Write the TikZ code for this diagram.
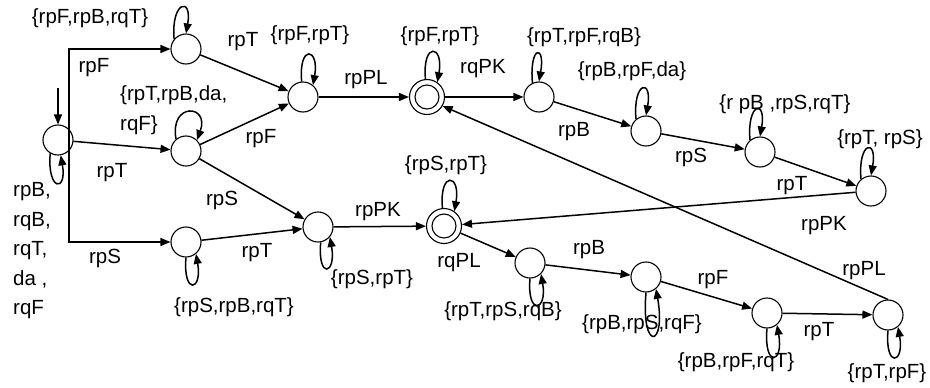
\documentclass[tikz,border=0pt]{standalone}
\usepackage{fontspec}
\setmainfont{Liberation Sans}
\usetikzlibrary{arrows.meta}
\begin{document}
\begin{tikzpicture}[x=1pt,y=-1pt,
  st/.style={circle,draw,line width=1.1pt,minimum size=30pt,inner sep=0pt},
  fin/.style={circle,draw,line width=1.1pt,minimum size=35pt,inner sep=0pt},
  edge/.style={line width=1.5pt,-{Triangle[length=10pt,width=8pt]}},
  lbl/.style={font=\fontsize{20.5}{29.5}\selectfont,inner sep=0pt}]
\useasboundingbox (0,0) rectangle (930,388);
% states
\node[st]  (s0) at (58,140) {};
\node[st]  (a) at (186,49) {};
\node[st]  (b) at (186,151) {};
\node[st]  (c) at (186,242) {};
\node[st]  (d) at (303,97) {};
\node[fin] (e) at (427,97) {};
\draw[line width=1.1pt] (e) circle[radius=12pt];
\node[st]  (f) at (539,97) {};
\node[st]  (g) at (646,131) {};
\node[st]  (h) at (760,152) {};
\node[st]  (i) at (871,191) {};
\node[st]  (j) at (318,227) {};
\node[fin] (k) at (444,226) {};
\draw[line width=1.1pt] (k) circle[radius=12pt];
\node[st]  (l) at (530,263) {};
\node[st]  (m) at (646,277) {};
\node[st]  (n) at (767,313) {};
\node[st]  (o) at (888,315) {};
\coordinate (start) at (58,88);
\coordinate (v) at (69,140);
% edges
\draw[edge] (start) -- (s0);
\draw[edge] (v) |- (a);
\draw[edge] (v) |- (c);
\draw[edge] (s0) -- (b);
\draw[edge] (a) -- (d);
\draw[edge] (b) -- (d);
\draw[edge] (b) -- (j);
\draw[edge] (c) -- (j);
\draw[edge] (d) -- (e);
\draw[edge] (e) -- (f);
\draw[edge] (f) -- (g);
\draw[edge] (g) -- (h);
\draw[edge] (h) -- (i);
\draw[edge] (i) -- (k);
\draw[edge] (j) -- (k);
\draw[edge] (k) -- (l);
\draw[edge] (l) -- (m);
\draw[edge] (m) -- (n);
\draw[edge] (n) -- (o);
\draw[edge] (o.north) -- (e.330);
% top loops
\draw[edge] (a.140) .. controls +(95:38pt) and +(80:38pt) .. (a.90);
\draw[edge] (b.130) .. controls +(100:38pt) and +(70:38pt) .. (b.45);
\draw[edge] (d.95) .. controls +(95:38pt) and +(80:38pt) .. (d.50);
\draw[edge] (e.95) .. controls +(95:38pt) and +(80:38pt) .. (e.55);
\draw[edge] (f.115) .. controls +(95:38pt) and +(80:38pt) .. (f.90);
\draw[edge] (g.130) .. controls +(95:38pt) and +(80:38pt) .. (g.90);
\draw[edge] (h.130) .. controls +(95:38pt) and +(80:38pt) .. (h.90);
\draw[edge] (i.130) .. controls +(95:38pt) and +(80:38pt) .. (i.90);
\draw[edge] (k.95) .. controls +(95:38pt) and +(80:38pt) .. (k.55);
% bottom loops
\draw[edge] (s0.240) .. controls +(265:38pt) and +(280:38pt) .. (s0.280);
\draw[edge] (c.270) .. controls +(265:38pt) and +(280:38pt) .. (c.310);
\draw[edge] (j.280) .. controls +(265:38pt) and +(280:38pt) .. (j.320);
\draw[edge] (l.270) .. controls +(265:38pt) and +(280:38pt) .. (l.315);
\draw[edge] (m.270) .. controls +(265:60pt) and +(280:60pt) .. (m.310);
\draw[edge] (n.270) .. controls +(265:40pt) and +(280:40pt) .. (n.310);
\draw[edge] (o.270) .. controls +(265:38pt) and +(280:38pt) .. (o.310);
% labels
\node[lbl] (t1) at (90,18) {\{rpF,rpB,rqT\}};
\node[lbl] (t2) at (94,68) {rpF};
\node[lbl] (t3) at (243,42) {rpT};
\node[lbl,align=left,anchor=west] (t4) at (120,110) {\{rpT,rpB,da,\\rqF\}};
\node[lbl] (t5) at (261,139) {rpF};
\node[lbl] (t6) at (112,173) {rpT};
\node[lbl,align=left,anchor=west] (t7) at (13,251) {rpB,\\rqB,\\rqT,\\da ,\\rqF};
\node[lbl] (t8) at (222,200) {rpS};
\node[lbl] (t9) at (105,258) {rpS};
\node[lbl] (t10) at (257,253) {rpT};
\node[lbl] (t11) at (234,307) {\{rpS,rpB,rqT\}};
\node[lbl] (t12) at (310,35) {\{rpF,rpT\}};
\node[lbl] (t13) at (366,80) {rpPL};
\node[lbl] (t14) at (440,36) {\{rpF,rpT\}};
\node[lbl] (t15) at (483,69) {rqPK};
\node[lbl] (t16) at (584,37) {\{rpT,rpF,rqB\}};
\node[lbl] (t17) at (632,71) {\{rpB,rpF,da\}};
\node[lbl] (t18) at (574,132) {rpB};
\node[lbl] (t19) at (785,104) {\{r pB ,rpS,rqT\}};
\node[lbl] (t20) at (691,157) {rpS};
\node[lbl] (t21) at (880,139) {\{rpT, rpS\}};
\node[lbl] (t22) at (792,186) {rpT};
\node[lbl] (t23) at (378,212) {rpPK};
\node[lbl] (t24) at (372,279) {\{rpS,rpT\}};
\node[lbl] (t25) at (446,165) {\{rpS,rpT\}};
\node[lbl] (t26) at (459,263) {rqPL};
\node[lbl] (t27) at (589,250) {rpB};
\node[lbl] (t28) at (503,311) {\{rpT,rpS,rqB\}};
\node[lbl] (t29) at (824,226) {rpPK};
\node[lbl] (t30) at (864,271) {rpPL};
\node[lbl] (t31) at (713,280) {rpF};
\node[lbl] (t32) at (642,324) {\{rpB,rpS,rqF\}};
\node[lbl] (t33) at (819,332) {rpT};
\node[lbl] (t34) at (736,362) {\{rpB,rpF,rqT\}};
\node[lbl] (t35) at (887,373) {\{rpT,rpF\}};
\end{tikzpicture}
\end{document}
